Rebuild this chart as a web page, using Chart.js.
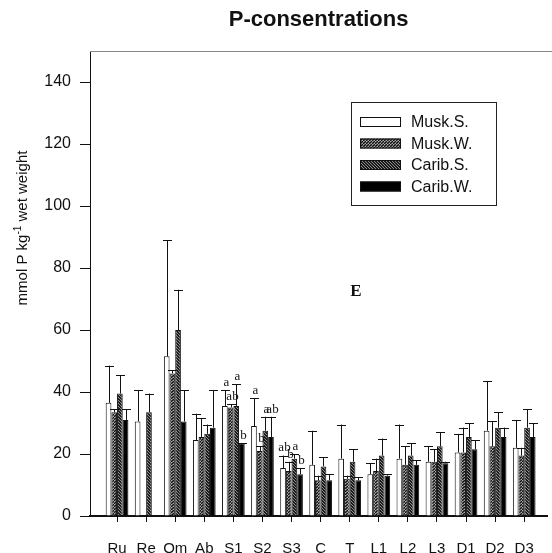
<!DOCTYPE html>
<html lang="en">
<head>
  <meta charset="UTF-8" />
  <title>P-consentrations</title>
  <style>
    body { margin: 0; background: #fff; }
    #wrap { width: 552px; height: 553px; }
  </style>
  <script src="https://cdn.jsdelivr.net/npm/chart.js"></script>
</head>
<body>
  <div id="wrap"><canvas id="chart"></canvas></div>

  <script>
    const cats = ['Ru', 'Re', 'Om', 'Ab', 'S1', 'S2', 'S3', 'C', 'T', 'L1', 'L2', 'L3', 'D1', 'D2', 'D3'];
    const yTicks = [0, 20, 40, 60, 80, 100, 120, 140];

    const muskS    = [36.5, 30.5, 51.5, 24.5, 35.5, 29, 15.5, 16.5, 18.5, 13.5, 18.5, 17.5, 20.5, 27.5, 22];
    const muskSsd  = [12, 10, 37.5, 8.5, 5, 9, 4, 11, 11, 3.5, 11, 5, 6, 16, 9];
    const muskW    = [33.5, null, 46, 25.5, 35, 21, 14.5, 11.5, 12, 14.5, 16.5, 17.5, 20.5, 22.5, 19.5];
    const muskWsd  = [1, null, 1, 6, 1, 1.5, 3, 1.5, 1, 4, 6, 4, 8, 8, 2.5];
    const caribS   = [39.5, 33.5, 60, 26.5, 35.5, 27.5, 18.5, 16, 17.5, 19.5, 19.5, 22.5, 25.5, 28.5, 28.5];
    const caribSsd = [6, 6, 13, 3, 7, 4.5, 1.5, 3, 4, 5.5, 4, 4.5, 4.5, 5, 6];
    const caribW   = [31, null, 30.5, 28.5, 23.5, 25.5, 13.5, 11.5, 11.5, 13, 16.5, 17, 21.5, 25.5, 25.5];
    const caribWsd = [3.5, null, 10, 12, 0, 6.5, 2, 2, 1, 0.5, 1.5, 0.5, 3, 3, 4.5];

    // significance letters (S1, S2, S3 only)
    const lettersMuskS  = ['', '', '', '', 'a', 'a', 'ab', '', '', '', '', '', '', '', ''];
    const lettersMuskW  = ['', '', '', '', 'ab', 'b', 'b', '', '', '', '', '', '', '', ''];
    const lettersCaribS = ['', '', '', '', 'a', 'a', 'a', '', '', '', '', '', '', '', ''];
    const lettersCaribW = ['', '', '', '', 'b', 'ab', 'b', '', '', '', '', '', '', '', ''];

    const ctx = document.getElementById('chart').getContext('2d');

    function hatch(bg, fg, forward, size, lw) {
      const c = document.createElement('canvas');
      c.width = c.height = size;
      const g = c.getContext('2d');
      g.fillStyle = bg;
      g.fillRect(0, 0, size, size);
      g.strokeStyle = fg;
      g.lineWidth = lw;
      g.beginPath();
      for (let k = -1; k <= 1; k++) {
        if (forward) {
          g.moveTo(k * size, size);
          g.lineTo(k * size + size, 0);
        } else {
          g.moveTo(k * size, 0);
          g.lineTo(k * size + size, size);
        }
      }
      g.stroke();
      return ctx.createPattern(c, 'repeat');
    }

    const fillMuskW = hatch('#ffffff', '#111111', true, 3, 1.6);
    const fillCaribS = hatch('#1a1a1a', '#9a9a9a', false, 3, 0.9);

    const toPts = arr => arr.map((v, i) => ({ x: i, y: v }));

    const series = [
      { label: 'Musk.S.', data: muskS, sd: muskSsd, letters: lettersMuskS, bg: '#ffffff' },
      { label: 'Musk.W.', data: muskW, sd: muskWsd, letters: lettersMuskW, bg: fillMuskW },
      { label: 'Carib.S.', data: caribS, sd: caribSsd, letters: lettersCaribS, bg: fillCaribS },
      { label: 'Carib.W.', data: caribW, sd: caribWsd, letters: lettersCaribW, bg: '#000000' }
    ];

    const extras = {
      id: 'extras',
      afterDatasetsDraw(chart) {
        const c = chart.ctx;
        const ys = chart.scales.y;
        const area = chart.chartArea;
        c.save();

        // faint top frame line
        c.strokeStyle = '#888';
        c.lineWidth = 1;
        c.beginPath();
        c.moveTo(area.left, area.top + 0.5);
        c.lineTo(chart.width, area.top + 0.5);
        c.stroke();

        // error bars and letters
        series.forEach((s, di) => {
          const meta = chart.getDatasetMeta(di);
          meta.data.forEach((bar, j) => {
            const v = s.data[j];
            if (v === null) return;
            const sd = s.sd[j] || 0;
            const top = ys.getPixelForValue(v + sd);
            const x = Math.round(bar.x) + 0.5;
            c.strokeStyle = '#111';
            c.lineWidth = 1;
            c.beginPath();
            c.moveTo(x, bar.y);
            c.lineTo(x, top);
            c.moveTo(x - 4.5, Math.round(top) + 0.5);
            c.lineTo(x + 4.5, Math.round(top) + 0.5);
            c.stroke();
            if (s.letters[j]) {
              c.fillStyle = '#111';
              c.font = '13px "Liberation Serif", serif';
              c.textAlign = 'center';
              c.textBaseline = 'bottom';
              c.fillText(s.letters[j], x + 1, top - 1);
            }
          });
        });

        // title
        c.fillStyle = '#111';
        c.font = 'bold 22px "Liberation Sans", Arial, sans-serif';
        c.textAlign = 'center';
        c.textBaseline = 'alphabetic';
        c.fillText('P-consentrations', (area.left + area.right) / 2, 26);

        // panel letter
        c.font = 'bold 17px "Liberation Serif", serif';
        c.fillText('E', 356, 296);

        // y axis title with superscript
        c.save();
        c.translate(27, 228);
        c.rotate(-Math.PI / 2);
        c.font = '15px "Liberation Sans", Arial, sans-serif';
        const p1 = 'mmol P kg', sup = '-1', p2 = ' wet weight';
        const w1 = c.measureText(p1).width, w3 = c.measureText(p2).width;
        c.font = '10px "Liberation Sans", Arial, sans-serif';
        const w2 = c.measureText(sup).width;
        let x0 = -(w1 + w2 + w3) / 2;
        c.textAlign = 'left';
        c.font = '15px "Liberation Sans", Arial, sans-serif';
        c.fillText(p1, x0, 0);
        c.font = '10px "Liberation Sans", Arial, sans-serif';
        c.fillText(sup, x0 + w1, -6);
        c.font = '15px "Liberation Sans", Arial, sans-serif';
        c.fillText(p2, x0 + w1 + w2, 0);
        c.restore();

        // legend box
        c.strokeStyle = '#222';
        c.lineWidth = 1;
        c.strokeRect(351.5, 102.5, 145, 103);
        c.font = '16px "Liberation Sans", Arial, sans-serif';
        c.textBaseline = 'middle';
        c.textAlign = 'left';
        series.forEach((s, i) => {
          const yy = 122 + i * 21.5;
          c.fillStyle = s.bg;
          c.fillRect(360, yy - 5, 41, 10);
          c.strokeStyle = '#111';
          c.strokeRect(360.5, yy - 4.5, 40, 9);
          c.fillStyle = '#111';
          c.fillText(s.label, 411, yy + 1);
        });

        c.restore();
      }
    };

    new Chart(ctx, {
      type: 'bar',
      data: {
        datasets: series.map(s => ({
          label: s.label,
          data: toPts(s.data),
          backgroundColor: s.bg,
          borderColor: '#111',
          borderWidth: 1,
          categoryPercentage: 0.78,
          barPercentage: 1.0
        }))
      },
      options: {
        responsive: true,
        maintainAspectRatio: false,
        animation: false,
        layout: { padding: { left: 0, top: 51, right: 4, bottom: 0 } },
        plugins: {
          legend: { display: false },
          title: { display: false },
          tooltip: { enabled: false }
        },
        scales: {
          x: {
            type: 'linear',
            offset: false,
            min: -0.93,
            max: 14.79,
            afterBuildTicks: s => { s.ticks = cats.map((c, i) => ({ value: i })); },
            afterFit: s => { s.height = 37; },
            ticks: {
              autoSkip: false,
              maxRotation: 0,
              padding: 18,
              color: '#111',
              font: { family: '"Liberation Sans", Arial, sans-serif', size: 15 },
              callback: v => cats[v]
            },
            grid: { offset: false, drawOnChartArea: false, tickLength: 6, color: '#111' },
            border: { color: '#111', width: 2 }
          },
          y: {
            min: 0,
            max: 150,
            afterBuildTicks: s => { s.ticks = yTicks.map(v => ({ value: v })); },
            afterFit: s => { s.width = 90; },
            ticks: {
              padding: 9,
              color: '#111',
              font: { family: '"Liberation Sans", Arial, sans-serif', size: 16 }
            },
            grid: { drawOnChartArea: false, tickLength: 10, color: '#111' },
            border: { color: '#111', width: 1 }
          }
        }
      },
      plugins: [extras]
    });
  </script>
</body>
</html>
